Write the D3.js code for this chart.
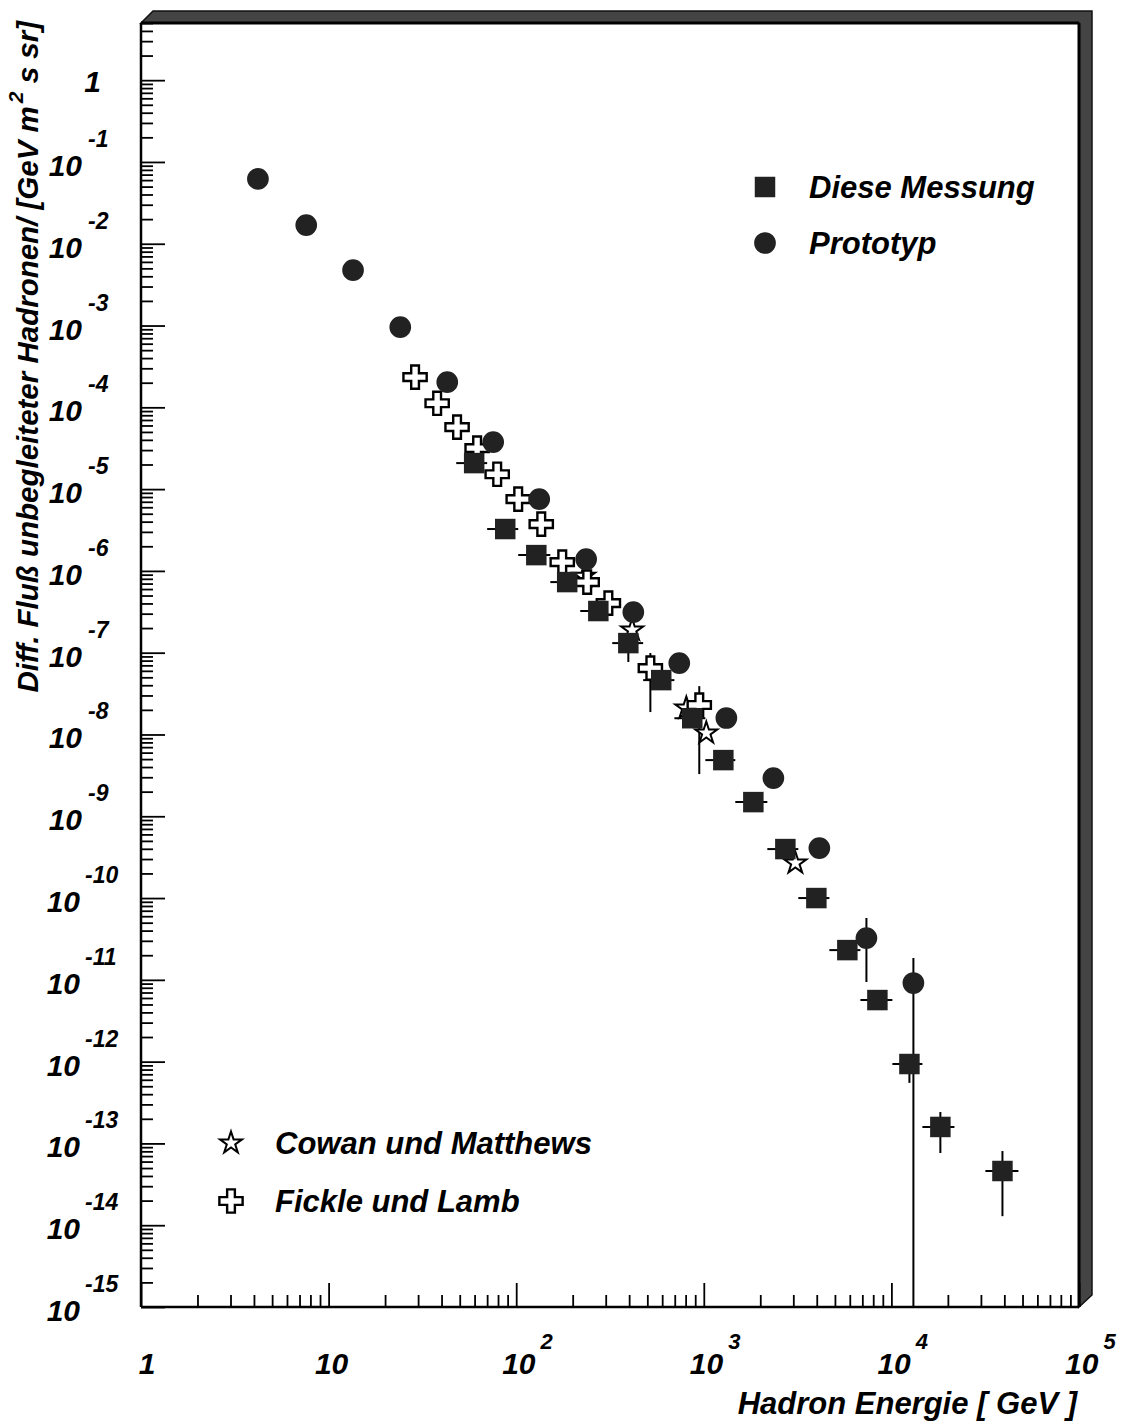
<!DOCTYPE html>
<html><head><meta charset="utf-8">
<script src="https://cdn.jsdelivr.net/npm/d3@7"></script>
<style>body{margin:0;background:#fff} svg{display:block}</style>
</head><body>
<svg id="c" width="1121" height="1425"></svg>
<script>
// ---- data ----
// "Diese Messung" (filled squares): energy (GeV), flux, bin edges, optional y errors
const dieseE   = [59.7, 87.4, 128, 187, 274, 396, 593, 868, 1271, 1837, 2721, 3981, 5823, 8420, 12475, 18240, 39080];
const dieseF   = [2.08e-5, 3.25e-6, 1.56e-6, 7.3e-7, 3.23e-7, 1.31e-7, 4.62e-8, 1.58e-8, 4.86e-9, 1.49e-9, 3.97e-10, 1.0e-10, 2.31e-11, 5.66e-12, 9.35e-13, 1.59e-13, 4.6e-14];
const dieseElo = [47.9, 70.0, 102.5, 152, 219.5, 325, 475, 697, 1019, 1472, 2181, 3190, 4670, 6835, 10120, 14630, 31700];
const dieseEhi = [70.0, 102.5, 152, 219.5, 325, 475, 697, 1019, 1472, 2181, 3190, 4670, 6835, 10120, 14630, 21680, 47540];
const dieseFlo = [null, null, null, null, null, 7.7e-8, null, null, null, null, null, null, null, null, 5.5e-13, 7.63e-14, 1.29e-14];
const dieseFhi = [null, null, null, null, null, 1.9e-7, null, null, null, null, null, null, null, null, 1.2e-12, 2.42e-13, 8.07e-14];

// "Prototyp" (filled circles)
const protoE   = [4.2, 7.6, 13.5, 24.1, 42.9, 75.4, 132.7, 236, 421, 740, 1319, 2349, 4130, 7360, 13100];
const protoF   = [6.2e-2, 1.69e-2, 4.75e-3, 9.55e-4, 2.03e-4, 3.76e-5, 7.55e-6, 1.39e-6, 3.13e-7, 7.46e-8, 1.59e-8, 2.93e-9, 4.08e-10, 3.24e-11, 9.14e-12];
const protoFlo = [null, null, null, null, null, null, null, null, null, null, null, null, 3.08e-10, 9.4e-12, 0];
const protoFhi = [null, null, null, null, null, null, null, null, null, null, null, null, 5.4e-10, 5.7e-11, 1.85e-11];

// "Fickle und Lamb" (open crosses)
const fickleE   = [28.9, 37.9, 48.4, 61.9, 79.2, 102.5, 136, 176, 239, 310, 519, 946];
const fickleF   = [2.34e-4, 1.12e-4, 5.73e-5, 3.17e-5, 1.52e-5, 7.55e-6, 3.73e-6, 1.28e-6, 7.3e-7, 4.04e-7, 6.48e-8, 2.29e-8];
const fickleFlo = [null, null, null, null, null, null, null, null, null, null, 1.88e-8, 3.28e-9];
const fickleFhi = [null, null, null, null, null, null, null, null, null, null, 9.9e-8, 3.9e-8];

// "Cowan und Matthews" (open stars)
const cowanE = [230, 415, 807, 1031, 3076];
const cowanF = [8.6e-7, 1.89e-7, 2.1e-8, 1.04e-8, 2.68e-10];

// axis tick labels
const xExps = [0, 1, 2, 3, 4, 5];
const yExps = [0, -1, -2, -3, -4, -5, -6, -7, -8, -9, -10, -11, -12, -13, -14, -15];
const xTitle = "Hadron Energie [ GeV ]";
const yTitleMain = "Diff. Fluß unbegleiteter Hadronen/ [GeV m";
const yTitleSup = "2";
const yTitleEnd = " s sr]";
const legendTop = ["Diese Messung", "Prototyp"];
const legendBottom = ["Cowan und Matthews", "Fickle und Lamb"];

// ---- drawing ----
const X0 = 141, X1 = 1079, Y0 = 1307, Y1 = 23;
const x = d3.scaleLog().domain([1, 1e5]).range([X0, X1]);
const y = d3.scaleLog().domain([1e-15, 5]).range([Y0, Y1]).clamp(true);
const svg = d3.select('#c');
const FONT = '"Liberation Sans", Arial, Helvetica, sans-serif';
const DARK = '#222';

// 3D frame band
const B = 12;
svg.append('path')
  .attr('d', `M${X0},${Y1} L${X0 + B},${Y1 - B} L${X1 + B + 1},${Y1 - B} L${X1 + B + 1},${Y0 - B} L${X1},${Y0} L${X1},${Y1} Z`)
  .attr('fill', '#444').attr('stroke', '#111').attr('stroke-width', 1.5);
svg.append('line').attr('x1', X0).attr('x2', X1).attr('y1', Y1).attr('y2', Y1).attr('stroke', '#000').attr('stroke-width', 3);
svg.append('line').attr('x1', X1).attr('x2', X1).attr('y1', Y1).attr('y2', Y0).attr('stroke', '#000').attr('stroke-width', 3);

// ticks
function minorTicks(lo, hi, expLo, expHi) {
  const out = [];
  for (let e = expLo; e <= expHi; e++) for (let k = 2; k <= 9; k++) {
    const v = k * Math.pow(10, e);
    if (v >= lo && v <= hi) out.push(v);
  }
  return out;
}
const yMaj = yExps.map(e => Math.pow(10, e));
const yMin = minorTicks(1e-15, 5, -15, 0);
const xMaj = xExps.map(e => Math.pow(10, e));
const xMin = minorTicks(1, 1e5, 0, 4);

function styleAxis(g) {
  g.select('.domain').remove();
  g.selectAll('.tick line').attr('stroke', '#000').attr('stroke-width', 1.8);
  g.selectAll('text').remove();
}
svg.append('g').attr('transform', `translate(${X0},0)`)
  .call(d3.axisLeft(y).tickValues(yMin).tickSize(-12).tickFormat('')).call(styleAxis);
svg.append('g').attr('transform', `translate(${X0},0)`)
  .call(d3.axisLeft(y).tickValues(yMaj).tickSize(-24).tickFormat('')).call(styleAxis);
svg.append('g').attr('transform', `translate(0,${Y0})`)
  .call(d3.axisBottom(x).tickValues(xMin).tickSize(-12).tickFormat('')).call(styleAxis);
svg.append('g').attr('transform', `translate(0,${Y0})`)
  .call(d3.axisBottom(x).tickValues(xMaj).tickSize(-24).tickFormat('')).call(styleAxis);

// axis lines
svg.append('line').attr('x1', X0).attr('x2', X0).attr('y1', Y1).attr('y2', Y0).attr('stroke', '#000').attr('stroke-width', 2.5);
svg.append('line').attr('x1', X0).attr('x2', X1).attr('y1', Y0).attr('y2', Y0).attr('stroke', '#000').attr('stroke-width', 2.5);

const txt = (sel) => sel.attr('font-family', FONT).attr('font-weight', 'bold').attr('font-style', 'italic').attr('fill', '#000');

// y tick labels
yExps.forEach(e => {
  const ty = y(Math.pow(10, e));
  if (e === 0) {
    svg.append('text').call(txt).attr('x', 101).attr('y', ty + 12).attr('text-anchor', 'end')
      .attr('font-size', 30).text('1');
  } else {
    svg.append('text').call(txt).attr('x', e <= -10 ? 80 : 82).attr('y', ty + 14).attr('text-anchor', 'end')
      .attr('font-size', 30).text('10');
    svg.append('text').call(txt).attr('x', e <= -10 ? 85 : 88).attr('y', ty - 15)
      .attr('font-size', 23).text(String(e));
  }
});
// x tick labels
xExps.forEach(e => {
  const tx = x(Math.pow(10, e)) + 3;
  if (e === 0) {
    svg.append('text').call(txt).attr('x', tx + 3).attr('y', 1374).attr('text-anchor', 'middle').attr('font-size', 30).text('1');
  } else if (e === 1) {
    svg.append('text').call(txt).attr('x', tx).attr('y', 1374).attr('text-anchor', 'middle').attr('font-size', 30).text('10');
  } else {
    const t = svg.append('text').call(txt).attr('x', tx - 17).attr('y', 1374);
    t.append('tspan').attr('font-size', 30).text('10');
    t.append('tspan').attr('font-size', 22).attr('dx', 5).attr('dy', -25).text(String(e));
  }
});

// axis titles
svg.append('text').call(txt).attr('x', 1077).attr('y', 1414).attr('text-anchor', 'end').attr('font-size', 31).text(xTitle);
const yt = svg.append('text').call(txt).attr('transform', 'translate(38,21) rotate(-90)').attr('text-anchor', 'end').attr('font-size', 29.5);
yt.append('tspan').text(yTitleMain);
yt.append('tspan').attr('font-size', 21).attr('dy', -15).attr('dx', 3).text(yTitleSup);
yt.append('tspan').attr('dy', 15).text(yTitleEnd);

// error bars
const eb = svg.append('g').attr('stroke', '#000').attr('stroke-width', 2).attr('fill', 'none');
function vbars(E, lo, hi) {
  E.forEach((e, i) => {
    if (lo[i] === null || lo[i] === undefined) return;
    const l = lo[i] > 0 ? y(lo[i]) : Y0;
    eb.append('line').attr('x1', x(e)).attr('x2', x(e)).attr('y1', l).attr('y2', y(hi[i]));
  });
}
dieseE.forEach((e, i) => {
  eb.append('line').attr('x1', x(dieseElo[i])).attr('x2', x(dieseEhi[i])).attr('y1', y(dieseF[i])).attr('y2', y(dieseF[i]));
});
vbars(dieseE, dieseFlo, dieseFhi);
vbars(protoE, protoFlo, protoFhi);
vbars(fickleE, fickleFlo, fickleFhi);

// markers
const sym = (type, size) => d3.symbol().type(type).size(size)();
const SQ = sym(d3.symbolSquare, 420), CI = sym(d3.symbolCircle, 370),
      CR = sym(d3.symbolCross, 300), ST = sym(d3.symbolStar, 150);

function markers(E, F, path, fill, stroke, sw) {
  svg.append('g').selectAll('path').data(E).join('path')
    .attr('d', path).attr('transform', (d, i) => `translate(${x(d)},${y(F[i])})`)
    .attr('fill', fill).attr('stroke', stroke).attr('stroke-width', sw).attr('stroke-linejoin', 'miter');
}
markers(cowanE, cowanF, ST, '#fff', '#000', 2);
markers(fickleE, fickleF, CR, '#fff', '#000', 2.4);
markers(dieseE, dieseF, SQ, DARK, 'none', 0);
markers(protoE, protoF, CI, DARK, 'none', 0);

// legends
function legendItem(px, py, path, fill, stroke, sw, label) {
  svg.append('path').attr('d', path).attr('transform', `translate(${px},${py})`)
    .attr('fill', fill).attr('stroke', stroke).attr('stroke-width', sw);
  svg.append('text').call(txt).attr('x', px + 44).attr('y', py + 11).attr('font-size', 31).text(label);
}
legendItem(765, 187, SQ, DARK, 'none', 0, legendTop[0]);
legendItem(765, 243, CI, DARK, 'none', 0, legendTop[1]);
legendItem(231, 1143, ST, '#fff', '#000', 2, legendBottom[0]);
legendItem(231, 1201, CR, '#fff', '#000', 2.4, legendBottom[1]);
</script>
</body></html>
